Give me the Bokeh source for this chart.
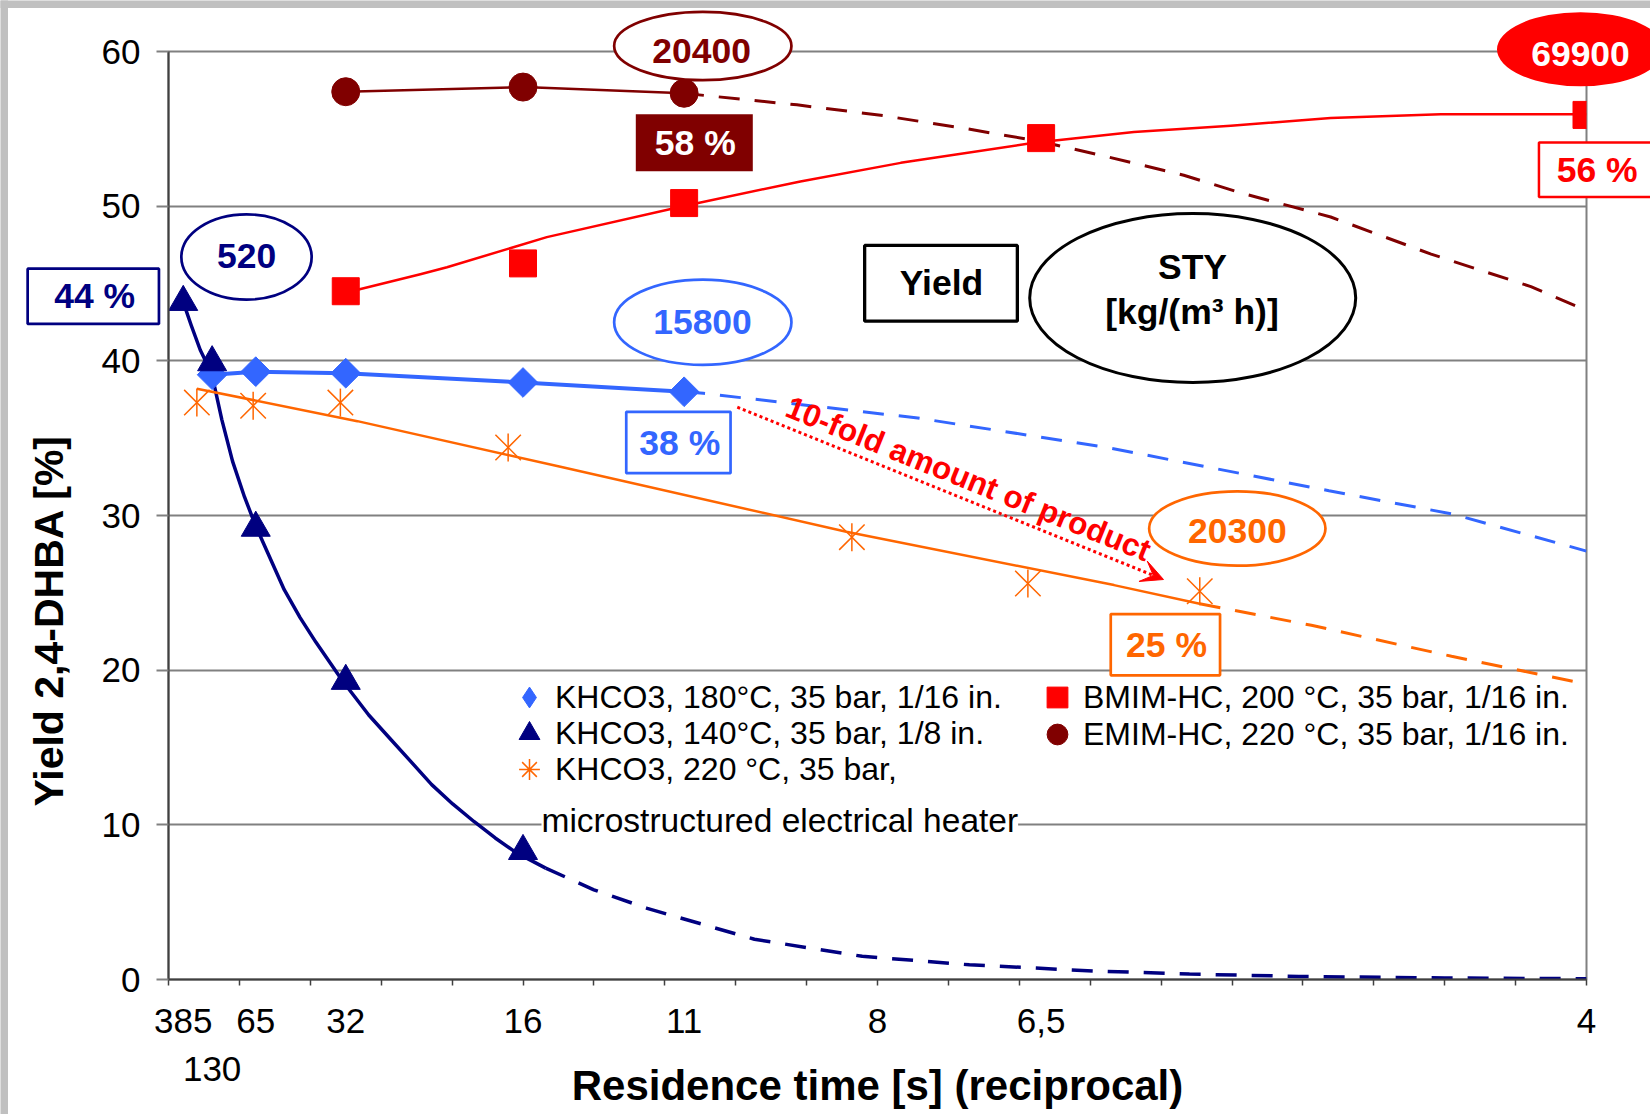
import math
from bokeh.plotting import figure
from bokeh.models import FixedTicker, Legend, LegendItem, Label, Arrow, VeeHead, Range1d
from bokeh.core.properties import value
from bokeh.embed import file_html
from bokeh.resources import INLINE

# ----------------------------- data -----------------------------
# x axis = reciprocal residence time (1/s); tick labels show residence time [s]
TICK_TIMES = [385, 65, 32, 16, 11, 8, 6.5, 4]
TICK_LABELS = ["385", "65", "32", "16", "11", "8", "6,5", "4"]
TICK_TIME_ROW2 = 130
TICK_LABEL_ROW2 = "130"
MINOR_STEP = 0.0125
Y_TICKS = [0, 10, 20, 30, 40, 50, 60]

LABEL_K180 = "KHCO3, 180°C, 35 bar, 1/16 in."
LABEL_K140 = "KHCO3, 140°C, 35 bar, 1/8 in."
LABEL_K220 = "KHCO3, 220 °C, 35 bar,"
LABEL_K220_2 = "microstructured electrical heater"
LABEL_BMIM = "BMIM-HC, 200 °C, 35 bar, 1/16 in."
LABEL_EMIM = "EMIM-HC, 220 °C, 35 bar, 1/16 in."

# KHCO3, 180 °C, 1/16 in. (measured points: residence time [s], yield [%])
K180_T = [130, 65, 32, 16, 11]
K180_Y = [39.1, 39.3, 39.2, 38.6, 38.0]
# extrapolation (dashed), x in 1/s
K180_EXT_X = [0.0909, 0.0943, 0.1321, 0.1655, 0.2046, 0.2263, 0.25]
K180_EXT_Y = [38.0, 37.9, 36.3, 34.4, 31.6, 30.1, 27.7]

# KHCO3, 140 °C, 1/8 in.
K140_T = [385, 130, 65, 32, 16]
K140_Y = [43.8, 39.9, 29.2, 19.3, 8.3]
K140_FIT_X = [0.0026, 0.0040, 0.0056, 0.0068, 0.0079, 0.0094, 0.0113, 0.0134,
              0.0154, 0.0204, 0.0232, 0.0260, 0.0307, 0.0353, 0.0390, 0.0427, 0.0464,
              0.0501, 0.0539, 0.0576, 0.0613, 0.0665]
K140_FIT_Y = [43.8, 42.3, 40.7, 39.8, 38.7, 36.2, 33.5, 31.2,
              29.3, 25.2, 23.4, 21.8, 19.3, 17.1, 15.6, 14.1, 12.6,
              11.35, 10.2, 9.15, 8.2, 7.2]
K140_EXT_X = [0.0665, 0.0750, 0.0844, 0.1033, 0.1223, 0.1412, 0.1632, 0.1800, 0.1993, 0.2250, 0.25]
K140_EXT_Y = [7.2, 5.8, 4.6, 2.6, 1.5, 0.95, 0.55, 0.35, 0.2, 0.1, 0.05]

# KHCO3, 220 °C, microstructured electrical heater
K220_T = [200, 67, 33, 16.7, 8.3, 6.6, 5.5]
K220_Y = [37.3, 37.1, 37.3, 34.4, 28.6, 25.6, 25.1]
K220_FIT_X = [0.0050, 0.0333, 0.0691, 0.1195, 0.1667, 0.1818]
K220_FIT_Y = [38.2, 36.1, 33.15, 28.95, 25.5, 24.3]
K220_EXT_X = [0.1818, 0.2015, 0.2262, 0.25]
K220_EXT_Y = [24.3, 22.9, 20.9, 19.1]

# BMIM-HC, 200 °C
BMIM_T = [32, 16, 11, 6.5, 4]
BMIM_Y = [44.5, 46.3, 50.2, 54.4, 55.9]
BMIM_FIT_X = [0.0312, 0.0444, 0.0491, 0.0667, 0.0907, 0.1114, 0.1291, 0.1526,
              0.1702, 0.1873, 0.2049, 0.2243, 0.25]
BMIM_FIT_Y = [44.4, 45.6, 46.05, 48.0, 50.0, 51.6, 52.8, 54.1,
              54.8, 55.2, 55.7, 55.95, 55.95]

# EMIM-HC, 220 °C
EMIM_T = [32, 16, 11]
EMIM_Y = [57.4, 57.7, 57.3]
EMIM_EXT_X = [0.0907, 0.0961, 0.1108, 0.1261, 0.1408, 0.1535, 0.1643, 0.1790,
              0.1896, 0.2049, 0.2226, 0.2402, 0.25]
EMIM_EXT_Y = [57.3, 57.1, 56.55, 55.85, 55.0, 54.2, 53.3, 52.0,
              50.8, 49.3, 46.9, 44.8, 43.25]

# ----------------------------- style -----------------------------
NAVY, BLUE, ORANGE, RED, DRED = "#000080", "#3366FF", "#FF6600", "#FF0000", "#800000"
GRID, AXIS, FRAME_GREY = "#808080", "#404040", "#C0C0C0"
FONT = "Liberation Sans"
DASH = "21 15"

W, H = 1650, 1114
BL, BR, BT, BB = 168, 64, 51, 135
X_MAX, Y_MAX = 0.25, 60
# canvas coordinates of the frame
FX0, FX1 = BL, W - BR
FY0, FY1 = H - BB, BT


def px(xp):
    return (xp - FX0) / (FX1 - FX0) * X_MAX


def py(yp):
    return (FY0 - yp) / (FY0 - FY1) * Y_MAX


def rec(ts):
    return [1.0 / t for t in ts]


p = figure(width=W, height=H, output_backend="svg", toolbar_location=None,
           x_range=Range1d(0, X_MAX), y_range=Range1d(0, Y_MAX),
           min_border_left=BL, min_border_right=BR, min_border_top=BT, min_border_bottom=BB)
p.background_fill_color = "white"
p.border_fill_color = "white"
p.outline_line_color = GRID
p.outline_line_width = 2

# axes
x_ticks = rec(TICK_TIMES)
p.xaxis.ticker = FixedTicker(ticks=x_ticks, minor_ticks=[i * MINOR_STEP for i in range(21)])
p.xaxis.major_label_overrides = {k: s for k, s in zip(x_ticks, TICK_LABELS)}
p.xaxis.major_tick_out = 0
p.xaxis.major_tick_in = 0
p.xaxis.minor_tick_out = 6
p.xaxis.minor_tick_in = 0
p.xaxis.minor_tick_line_color = AXIS
p.xaxis.minor_tick_line_width = 1.5
p.xaxis.axis_line_color = AXIS
p.xaxis.axis_line_width = 2
p.xaxis.major_label_standoff = 23
p.xaxis.major_label_text_font = FONT
p.xaxis.major_label_text_font_size = "35px"
p.xaxis.major_label_text_color = "black"
p.xaxis.axis_label = "Residence time [s] (reciprocal)"
p.xaxis.axis_label_text_font = FONT
p.xaxis.axis_label_text_font_size = "42px"
p.xaxis.axis_label_text_font_style = "bold"
p.xaxis.axis_label_text_color = "black"
p.xaxis.axis_label_standoff = 26

p.yaxis.ticker = FixedTicker(ticks=Y_TICKS)
p.yaxis.major_tick_out = 12
p.yaxis.major_tick_in = 0
p.yaxis.major_tick_line_color = GRID
p.yaxis.major_tick_line_width = 2
p.yaxis.minor_tick_line_color = None
p.yaxis.axis_line_color = AXIS
p.yaxis.axis_line_width = 2
p.yaxis.major_label_standoff = 16
p.yaxis.major_label_text_font = FONT
p.yaxis.major_label_text_font_size = "35px"
p.yaxis.major_label_text_color = "black"

p.xgrid.visible = False
p.ygrid.ticker = FixedTicker(ticks=Y_TICKS)
p.ygrid.grid_line_color = GRID
p.ygrid.grid_line_width = 2


def txt(cx, cy, s, color, size="35.5px", style="bold", angle=0.0, xdata=None):
    p.text(x=[px(cx) if xdata is None else xdata], y=[py(cy)], text=[s], text_color=color,
           text_font=value(FONT), text_font_size=size, text_font_style=style,
           text_align="center", text_baseline="middle", angle=angle, level="overlay")


def shape(kind, cx, cy, w, h, line_color, fill_color="white", lw=2.7):
    inset = lw if line_color is not None else 0
    kw = dict(x=[px(cx)], y=[py(cy)], width=w - inset, height=h - inset,
              width_units="screen", height_units="screen", fill_color=fill_color,
              line_color=line_color, line_width=lw, level="overlay")
    if kind == "box":
        p.rect(**kw)
    else:
        p.ellipse(**kw)


# grey page frame strips (left and top) of the original screenshot
shape("box", 3.75, H / 2, 7.5, H, None, fill_color=FRAME_GREY)
shape("box", W / 2, 3.75, W, 7.5, None, fill_color=FRAME_GREY)

# ----------------------------- series -----------------------------
p.line(K140_FIT_X, K140_FIT_Y, line_color=NAVY, line_width=3.5, line_join="round")
p.line(K140_EXT_X, K140_EXT_Y, line_color=NAVY, line_width=3.5, line_dash=DASH)
p.line(rec(K180_T), K180_Y, line_color=BLUE, line_width=4, line_join="round")
p.line(K180_EXT_X, K180_EXT_Y, line_color=BLUE, line_width=3, line_dash=DASH)
p.line(K220_FIT_X, K220_FIT_Y, line_color=ORANGE, line_width=2.5)
p.line(K220_EXT_X, K220_EXT_Y, line_color=ORANGE, line_width=3, line_dash=DASH)
p.line(BMIM_FIT_X, BMIM_FIT_Y, line_color=RED, line_width=2.5, line_join="round")
p.line(rec(EMIM_T), EMIM_Y, line_color=DRED, line_width=2.5)
p.line(EMIM_EXT_X, EMIM_EXT_Y, line_color=DRED, line_width=3, line_dash=DASH)

p.scatter(rec(K180_T), K180_Y, marker="square", angle=math.pi / 4, size=21,
          fill_color=BLUE, line_color=BLUE)
p.scatter(rec(K220_T), K220_Y, marker="x", size=36, line_color=ORANGE, line_width=1.5)
p.scatter(rec(K220_T), K220_Y, marker="dash", angle=math.pi / 2, size=28,
          line_color=ORANGE, line_width=1.5)
p.scatter(rec(K140_T), K140_Y, marker="triangle", size=29, fill_color=NAVY, line_color=NAVY)
p.scatter(rec(BMIM_T), BMIM_Y, marker="square", size=27, fill_color=RED, line_color=RED)
p.scatter(rec(EMIM_T), EMIM_Y, marker="circle", size=28, fill_color=DRED, line_color=DRED)

# legend glyphs (zero-size copies of the series, used only for the legend symbols)
lg_k180 = p.scatter(rec(K180_T), K180_Y, marker="diamond", size=0, fill_color=BLUE, line_color=BLUE)
lg_k140 = p.scatter(rec(K140_T), K140_Y, marker="triangle", size=0, fill_color=NAVY, line_color=NAVY)
lg_k220 = p.scatter(rec(K220_T), K220_Y, marker="asterisk", size=0, line_color=ORANGE, line_width=1.5)
lg_bmim = p.scatter(rec(BMIM_T), BMIM_Y, marker="square", size=0, fill_color=RED, line_color=RED)
lg_emim = p.scatter(rec(EMIM_T), EMIM_Y, marker="circle", size=0, fill_color=DRED, line_color=DRED)

leg_common = dict(orientation="vertical", glyph_width=52, glyph_height=52,
                  padding=0, margin=0, border_line_color=None, background_fill_alpha=0,
                  label_text_font=FONT, label_text_font_size="32px", label_text_color="black")
for label, rend, loc, standoff in [
        (LABEL_K180, lg_k180, (335, 256), -9),
        (LABEL_K140, lg_k140, (335, 220), -9),
        (LABEL_K220, lg_k220, (335, 184), -9),
        (LABEL_BMIM, lg_bmim, (863, 256), -7),
        (LABEL_EMIM, lg_emim, (863, 219), -7)]:
    p.add_layout(Legend(items=[LegendItem(label=label, renderers=[rend])],
                        location=loc, label_standoff=standoff, **leg_common))

p.add_layout(Label(x=px(779.3), y=py(820), text=LABEL_K220_2, text_font=FONT,
                   text_font_size="33.5px", text_color="black", text_align="center",
                   text_baseline="middle", background_fill_color="white"))

# second-row tick label and y-axis title
txt(0, 1068.5, TICK_LABEL_ROW2, "black", size="35px", style="normal", xdata=1.0 / TICK_TIME_ROW2)
txt(48.2, 614.3, "Yield 2,4-DHBA  [%]", "black", size="41px", angle=math.pi / 2)

# ----------------------------- annotations -----------------------------
shape("box", 92.8, 295.8, 134, 58, NAVY)
txt(94.2, 295.5, "44 %", NAVY)
shape("ellipse", 246, 256.5, 133, 88, NAVY)
txt(246.2, 255, "520", NAVY)

shape("ellipse", 702.3, 45.5, 180, 71, DRED)
txt(701.2, 50, "20400", DRED)
shape("box", 693.8, 142.3, 117, 57, None, fill_color=DRED)
txt(694.8, 142.5, "58 %", "white")

shape("ellipse", 702.3, 321.7, 180, 88, BLUE)
txt(702, 321, "15800", BLUE)
shape("box", 677.9, 442, 107, 64, BLUE)
txt(679.3, 442.5, "38 %", BLUE)

shape("box", 940.5, 282.8, 156, 79, "black", lw=3.3)
txt(941, 282.3, "Yield", "black")
shape("ellipse", 1192.2, 297.5, 329, 172, "black", lw=3)
txt(1192, 266.7, "STY", "black")
txt(1191.5, 311.5, "[kg/(m³ h)]", "black")

shape("ellipse", 1580, 48.8, 167, 74, None, fill_color=RED)
txt(1580, 53.3, "69900", "white")
shape("box", 1596.7, 169.3, 119, 57, RED, lw=2.5)
txt(1596.7, 169.3, "56 %", RED)

shape("ellipse", 1236.8, 528, 179, 77, ORANGE)
txt(1236.8, 530.8, "20300", ORANGE)
shape("box", 1164.9, 644.2, 112, 64, ORANGE)
txt(1166, 644.2, "25 %", ORANGE)

# 10-fold arrow
p.add_layout(Arrow(x_start=px(736.8), y_start=py(406.7), x_end=px(1163), y_end=py(579),
                   line_color=RED, line_width=3, line_dash="3 3",
                   end=VeeHead(size=22, fill_color=RED, line_color=RED, line_width=1)))
txt(968, 478, "10-fold amount of product", RED, size="31.5px", angle=-math.radians(22.0))

open("out.html", "w").write(file_html(p, INLINE))
